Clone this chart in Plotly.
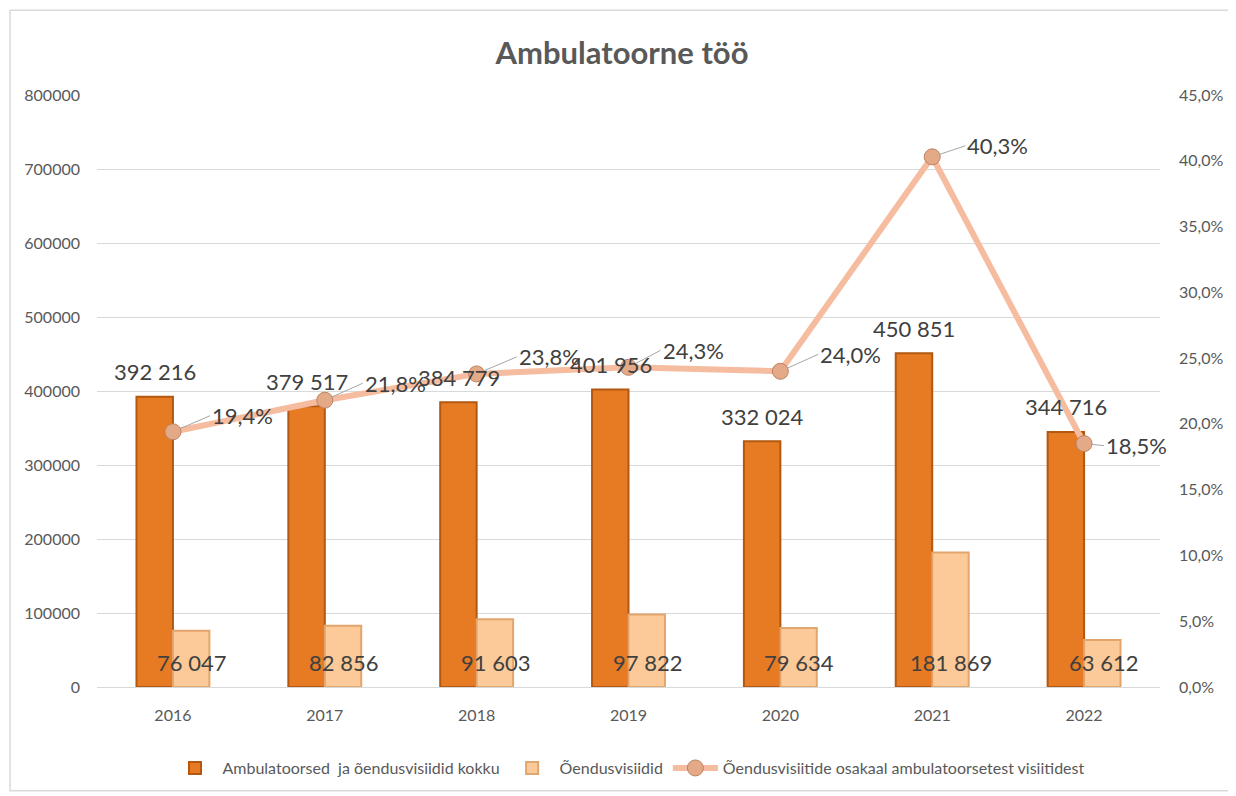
import plotly.graph_objects as go

# data
years = ["2016", "2017", "2018", "2019", "2020", "2021", "2022"]
total_visits = [392216, 379517, 384779, 401956, 332024, 450851, 344716]
nurse_visits = [76047, 82856, 91603, 97822, 79634, 181869, 63612]
nurse_share = [0.194, 0.218, 0.238, 0.243, 0.240, 0.403, 0.185]

# label offsets for the percentage labels (px)
pct_label_offsets = [(37, -16), (38, -17), (40, -17), (32, -17), (38, -17), (33, -11), (20, 2)]

FONT = "Lato"
GREY = "#595959"
DARK = "#404040"


def fmt_num(v):
    return f"{v:,}".replace(",", " ")


fig = go.Figure()

fig.add_trace(go.Bar(
    x=years, y=total_visits,
    name="Ambulatoorsed  ja õendusvisiidid kokku",
    legendgroup="a",
    marker=dict(color="#E67B24", line=dict(color="#B35810", width=2)),
))

fig.add_trace(go.Bar(
    x=years, y=nurse_visits,
    name="Õendusvisiidid",
    legendgroup="b",
    marker=dict(color="#FBCA98", line=dict(color="#E3A56E", width=2)),
))

fig.add_trace(go.Scatter(
    x=years, y=nurse_share,
    name="Õendusvisiitide osakaal ambulatoorsetest visiitidest",
    legendgroup="c",
    yaxis="y2",
    mode="lines+markers",
    line=dict(color="#F5BC9F", width=6),
    marker=dict(size=16, color="#E4AA88", line=dict(color="#BB8262", width=1)),
))

# labels above the dark bars
for i, v in enumerate(total_visits):
    fig.add_annotation(
        x=i, y=v, xref="x", yref="y",
        text=fmt_num(v), showarrow=False,
        xshift=-18, yshift=25, yanchor="middle",
        font=dict(family=FONT, size=22, color=DARK),
    )

# labels at the base of the light bars
for i, v in enumerate(nurse_visits):
    fig.add_annotation(
        x=i, y=0, xref="x", yref="y",
        text=fmt_num(v), showarrow=False,
        xshift=19, yshift=25, yanchor="middle",
        font=dict(family=FONT, size=22, color=DARK),
    )

# percentage labels with leader lines
for i, (p, (dx, dy)) in enumerate(zip(nurse_share, pct_label_offsets)):
    fig.add_annotation(
        x=i, y=p, xref="x", yref="y2",
        text=f"{p*100:.1f}%".replace(".", ","),
        showarrow=True, arrowhead=0, arrowwidth=1, arrowcolor="#A6A6A6",
        ax=dx, ay=dy, xanchor="left", standoff=8,
        font=dict(family=FONT, size=22, color=DARK),
    )

# outer chart frame
fig.add_shape(type="rect", xref="paper", yref="paper",
              x0=-0.0818, x1=1.079, y0=-0.1754, y1=1.1433,
              line=dict(color="#D9D9D9", width=1.5))

fig.update_layout(
    width=1228, height=788,
    margin=dict(l=89, r=76, t=87, b=108),
    paper_bgcolor="white", plot_bgcolor="white",
    separators=", ",
    barmode="group", bargap=0.52, bargroupgap=0,
    title=dict(text="<b>Ambulatoorne töö</b>", x=0.5, xanchor="center",
               y=0.943, yanchor="middle",
               font=dict(family=FONT, size=31, color=GREY)),
    font=dict(family=FONT, size=16, color=GREY),
    xaxis=dict(type="category", range=[-0.5, 6.5], showgrid=False,
               showline=False, ticks="", ticklabelstandoff=17,
               tickfont=dict(size=16, color=GREY)),
    yaxis=dict(range=[0, 800000], dtick=100000, tickformat="d",
               gridcolor="#D9D9D9", gridwidth=1, zeroline=True,
               zerolinecolor="#D9D9D9", zerolinewidth=1,
               tickfont=dict(size=16, color=GREY), ticklabelstandoff=16),
    yaxis2=dict(range=[0, 0.45], dtick=0.05, tickformat=".1%",
                overlaying="y", side="right", showgrid=False, zeroline=False,
                tickfont=dict(size=16, color=GREY), ticklabelstandoff=18),
    legend=dict(orientation="h", x=0.5, xanchor="center", y=-0.135,
                yanchor="middle", font=dict(size=16, color=GREY),
                traceorder="grouped", tracegroupgap=40,
                itemwidth=45),
    showlegend=True,
)

fig.write_html("out.html")
